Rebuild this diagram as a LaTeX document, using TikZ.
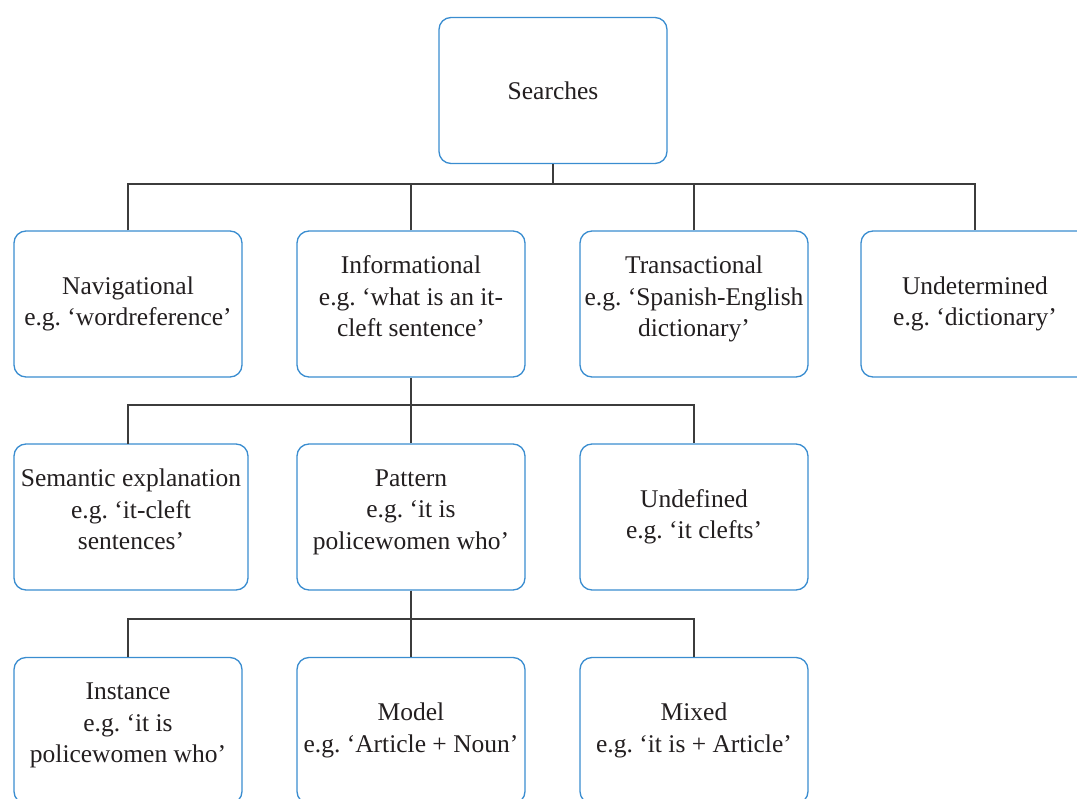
\documentclass[tikz,border=0pt]{standalone}
\usepackage{fontspec}
\setmainfont{Liberation Serif}
\frenchspacing
\definecolor{boxblue}{HTML}{3A8DD0}
\definecolor{linegray}{HTML}{3C3C3C}
\definecolor{txt}{HTML}{231F20}
\tikzset{
  box/.style={draw=boxblue, line width=1.3pt, rounded corners=12pt, fill=white,
    minimum width=228pt, minimum height=146pt, align=center, text=txt,
    font=\fontsize{25.5}{31.5}\selectfont\frenchspacing, inner sep=0pt},
  three/.style={text depth=15pt},
  conn/.style={draw=linegray, line width=1.3pt}
}
\begin{document}
\begin{tikzpicture}[x=1pt,y=-1pt]
\clip (0,0) rectangle (1077,799);
% nodes
\node[box] (S) at (553,90.5) {Searches};
\node[box] (nav) at (128,304) {Navigational\\e.g. ‘wordreference’};
\node[box, three] (inf) at (411,304) {Informational\\e.g. ‘what is an it-\\cleft sentence’};
\node[box, three] (tra) at (694,304) {Transactional\\e.g. ‘Spanish-English\\dictionary’};
\node[box] (und) at (975,304) {Undetermined\\e.g. ‘dictionary’};
\node[box, three, minimum width=234pt] (sem) at (131,517) {Semantic explanation\\e.g. ‘it-cleft\\sentences’};
\node[box, three] (pat) at (411,517) {Pattern\\e.g. ‘it is\\policewomen who’};
\node[box] (udf) at (694,517) {Undefined\\e.g. ‘it clefts’};
\node[box, three] (ins) at (128,730.5) {Instance\\e.g. ‘it is\\policewomen who’};
\node[box] (mod) at (411,730.5) {Model\\e.g. ‘Article + Noun’};
\node[box] (mix) at (694,730.5) {Mixed\\e.g. ‘it is + Article’};
% junctions
\coordinate (j1) at (553,184);
\coordinate (j2) at (411,405);
\coordinate (j3) at (411,619);
\coordinate (semtop) at (128,444);
% connectors
\draw[conn] (S.south) -- (j1);
\draw[conn] (nav.north) |- (j1) -| (und.north);
\draw[conn] (inf.north) -- (inf.north |- j1);
\draw[conn] (tra.north) -- (tra.north |- j1);
\draw[conn] (inf.south) -- (j2);
\draw[conn] (semtop) |- (j2) -| (udf.north);
\draw[conn] (pat.north) -- (j2);
\draw[conn] (pat.south) -- (j3);
\draw[conn] (ins.north) |- (j3) -| (mix.north);
\draw[conn] (mod.north) -- (j3);
\end{tikzpicture}
\end{document}
